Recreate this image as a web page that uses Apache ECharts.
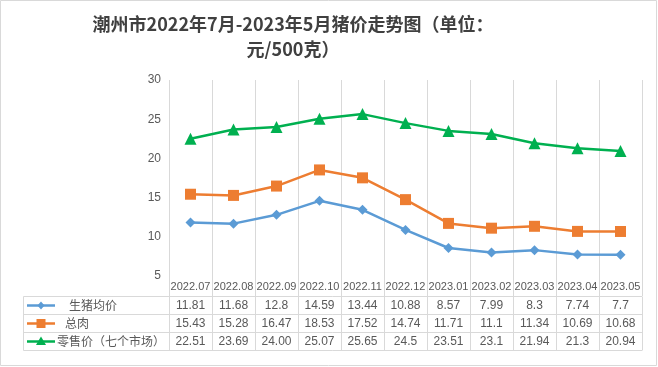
<!DOCTYPE html>
<html><head><meta charset="utf-8">
<script src="https://cdn.jsdelivr.net/npm/echarts@6/dist/echarts.min.js"></script>
<style>html,body{margin:0;padding:0;background:#fff}#c{width:658px;height:367px}</style>
</head><body><div id="c"></div>
<script>
const titleText = '潮州市2022年7月-2023年5月猪价走势图（单位：\n元/500克）';
const categories = ['2022.07','2022.08','2022.09','2022.10','2022.11','2022.12','2023.01','2023.02','2023.03','2023.04','2023.05'];
const seriesNames = ['生猪均价','总肉','零售价（七个市场）'];
const liveHog = ['11.81','11.68','12.8','14.59','13.44','10.88','8.57','7.99','8.3','7.74','7.7'];
const totalMeat = ['15.43','15.28','16.47','18.53','17.52','14.74','11.71','11.1','11.34','10.69','10.68'];
const retail = ['22.51','23.69','24.00','25.07','25.65','24.5','23.51','23.1','21.94','21.3','20.94'];
const yMin = 5, yMax = 30, yInterval = 5;

const colors = ['#5B9BD5','#ED7D31','#00B050'];
const symbols = ['diamond','rect','triangle'];
const symbolSizes = [10,11,12];
const allSeries = [liveHog, totalMeat, retail];
const gridC = '#d9d9d9';
const textC = '#595959';
const font = '"Noto Sans CJK SC", "Noto Sans", sans-serif';
const numFont = '"Liberation Sans", "Noto Sans CJK SC", sans-serif';

const chart = echarts.init(document.getElementById('c'), null, {renderer:'canvas'});
const option = {
  animation:false,
  backgroundColor:'#fff',
  grid:{left:169, right:16, top:80, bottom:91, containLabel:false},
  xAxis:{type:'category', data:categories, boundaryGap:true,
    axisLine:{show:false},
    axisTick:{show:true, length:20, lineStyle:{color:gridC, width:1}},
    splitLine:{show:true, lineStyle:{color:gridC, width:1}},
    axisLabel:{color:textC, fontSize:11, fontFamily:'Liberation Sans', margin:5, interval:0}},
  yAxis:{type:'value', min:yMin, max:yMax, interval:yInterval,
    axisLine:{show:false}, axisTick:{show:false}, splitLine:{show:false},
    axisLabel:{color:textC, fontSize:12, fontFamily:'Liberation Sans', margin:8}},
  series: allSeries.map((d,i)=>({
    type:'line', name:seriesNames[i], data:d.map(Number),
    symbol:symbols[i], symbolSize:symbolSizes[i], showSymbol:true,
    lineStyle:{color:colors[i], width:2.5}, itemStyle:{color:colors[i]}
  }))
};
chart.setOption(option);

const g = [];
g.push({type:'rect', shape:{x:0.5,y:0.5,width:656,height:365}, style:{fill:null, stroke:gridC, lineWidth:1}, silent:true});
g.push({type:'text', x:293, y:12, style:{text:titleText, font:'bold 18px '+font, fill:'#404040', align:'center', lineHeight:25}});

const c0 = chart.convertToPixel({xAxisIndex:0}, 0);
const c1 = chart.convertToPixel({xAxisIndex:0}, 1);
const bw = c1 - c0;
const xs = categories.map((_,i)=>chart.convertToPixel({xAxisIndex:0}, i));
const leftX = 23.5;
const rightX = xs[xs.length-1] + bw/2;
const firstX = xs[0] - bw/2;
const rowYs = [296.5, 314.5, 332.5, 350.5];
rowYs.forEach(y=>g.push({type:'line', shape:{x1:leftX,y1:y,x2:rightX,y2:y}, style:{stroke:gridC, lineWidth:1}}));
g.push({type:'line', shape:{x1:leftX,y1:rowYs[0],x2:leftX,y2:rowYs[3]}, style:{stroke:gridC, lineWidth:1}});
for (let k=0;k<=categories.length;k++){
  const x = Math.round(firstX + k*bw)+0.5;
  g.push({type:'line', shape:{x1:x,y1:rowYs[0],x2:x,y2:rowYs[3]}, style:{stroke:gridC, lineWidth:1}});
}
const legendTextX = [69, 65, 57];
allSeries.forEach((d,r)=>{
  const cy = (rowYs[r]+rowYs[r+1])/2;
  d.forEach((v,i)=>{
    g.push({type:'text', x:xs[i], y:cy, style:{text:v, font:'12px '+numFont, fill:textC, align:'center', verticalAlign:'middle'}});
  });
  g.push({type:'line', shape:{x1:27,y1:cy,x2:55,y2:cy}, style:{stroke:colors[r], lineWidth:2.5}});
  const mx = 41;
  if (symbols[r]==='diamond') g.push({type:'polygon', shape:{points:[[mx,cy-4],[mx+3.5,cy],[mx,cy+4],[mx-3.5,cy]]}, style:{fill:colors[r]}});
  if (symbols[r]==='rect') g.push({type:'rect', shape:{x:mx-4.5,y:cy-4.5,width:9,height:9}, style:{fill:colors[r]}});
  if (symbols[r]==='triangle') g.push({type:'polygon', shape:{points:[[mx,cy-5],[mx+5,cy+3.5],[mx-5,cy+3.5]]}, style:{fill:colors[r]}});
  g.push({type:'text', x:legendTextX[r], y:cy, style:{text:seriesNames[r], font:'12px '+font, fill:textC, align:'left', verticalAlign:'middle'}});
});
chart.setOption({graphic:{elements:g}});
</script></body></html>
